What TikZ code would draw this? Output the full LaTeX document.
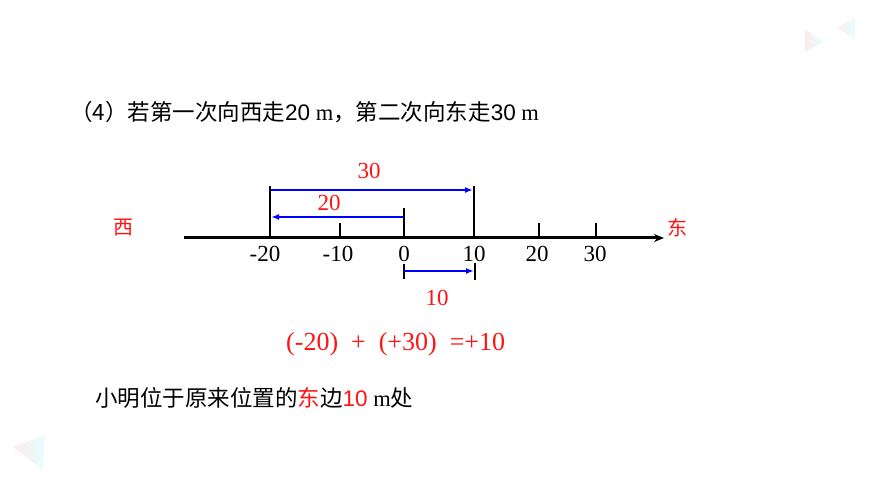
\documentclass[tikz,border=0pt]{standalone}
\usepackage{fontspec}
\setmainfont{Liberation Serif}
\setsansfont{Liberation Sans}
\newfontfamily\cjk{Noto Sans CJK SC}
\usetikzlibrary{arrows.meta}
\definecolor{tred}{RGB}{255,20,20}
\definecolor{tblue}{RGB}{0,0,255}
\tikzset{
  axisline/.style={line width=3pt,-{Stealth[length=10pt,width=8pt]}},
  tickline/.style={line width=2.8pt},
  bluearrow/.style={tblue,line width=2.4pt,-{Latex[length=8pt,width=6pt]}},
  ticklab/.style={font=\fontsize{23}{25}\selectfont,inner sep=0pt},
  redlab/.style={tred,font=\fontsize{23}{25}\selectfont,inner sep=0pt},
  txt/.style={font=\fontsize{22.5}{26}\selectfont,inner sep=0pt,anchor=west},
  deco/.style={opacity=0.2,left color=red!40,right color=cyan!50,draw=none}
}
\begin{document}
\begin{tikzpicture}[x=1pt,y=-1pt]
\useasboundingbox (0,0) rectangle (870,489);
\fill[white] (0,0) rectangle (870,489);
% decorations
\shade[deco] (805,29) -- (823,42) -- (805,52) -- cycle;
\shade[deco] (855,18) -- (837,28) -- (855,39) -- cycle;
\shade[deco] (13,447) -- (45,435) -- (43,470) -- cycle;
% title
\node[txt] (title) at (70,112) {{\cjk （4）若第一次向西走}{\sffamily 20} m{\cjk ，第二次向东走}{\sffamily 30} m};
% axis
\coordinate (axL) at (184,238);
\coordinate (axR) at (664,238);
\draw[axisline] (axL) -- (axR);
% tick points
\coordinate (m20) at (270,238);
\coordinate (m10) at (340,238);
\coordinate (z0) at (404,238);
\coordinate (p10) at (474,238);
\coordinate (p20) at (539,238);
\coordinate (p30) at (596,238);
\coordinate (m20t) at (270,186);
\coordinate (p10t) at (474,186);
\coordinate (z0t) at (404,208);
\draw[tickline] (m20) -- (m20t);
\draw[tickline] (p10) -- (p10t);
\draw[tickline] (z0) -- (z0t);
\draw[tickline] (m10) -- ++(0,-15);
\draw[tickline] (p20) -- ++(0,-15);
\draw[tickline] (p30) -- ++(0,-15);
% tick labels
\node[ticklab] (lm20) at (265,254) {-20};
\node[ticklab] (lm10) at (338,254) {-10};
\node[ticklab] (l0) at (404,254) {0};
\node[ticklab] (l10) at (474,254) {10};
\node[ticklab] (l20) at (537,254) {20};
\node[ticklab] (l30) at (595,254) {30};
% direction labels
\node[tred,font=\cjk\fontsize{20}{24}\selectfont,inner sep=0pt] (west) at (123,228) {西};
\node[tred,font=\cjk\fontsize{20}{24}\selectfont,inner sep=0pt] (east) at (677,228) {东};
% upper arrows
\coordinate (a30s) at (271,190);
\coordinate (a30e) at (473,190);
\draw[bluearrow] (a30s) -- (a30e);
\coordinate (a20s) at (403,217);
\coordinate (a20e) at (271,217);
\draw[bluearrow] (a20s) -- (a20e);
\node[redlab] (n30) at (369,171) {30};
\node[redlab] (n20) at (329,203) {20};
% lower arrow
\coordinate (b0) at (404,271);
\coordinate (b10) at (474,271);
\draw[tickline,line width=2.4pt] (404,264) -- (404,279);
\draw[tickline,line width=2.4pt] (475,263) -- (475,280);
\draw[bluearrow] (b0) -- (b10);
\node[redlab] (n10) at (437,298) {10};
% formula
\node[redlab,font=\fontsize{26}{30}\selectfont,anchor=west] (formula) at (286,344) {(-20)\ \ +\ \ (+30)\ \ =+10};
% conclusion
\node[txt] (concl) at (95,398) {{\cjk 小明位于原来位置的}{\cjk\color{tred}东}{\cjk 边}{\sffamily\color{tred}10} m{\cjk 处}};
\end{tikzpicture}
\end{document}
